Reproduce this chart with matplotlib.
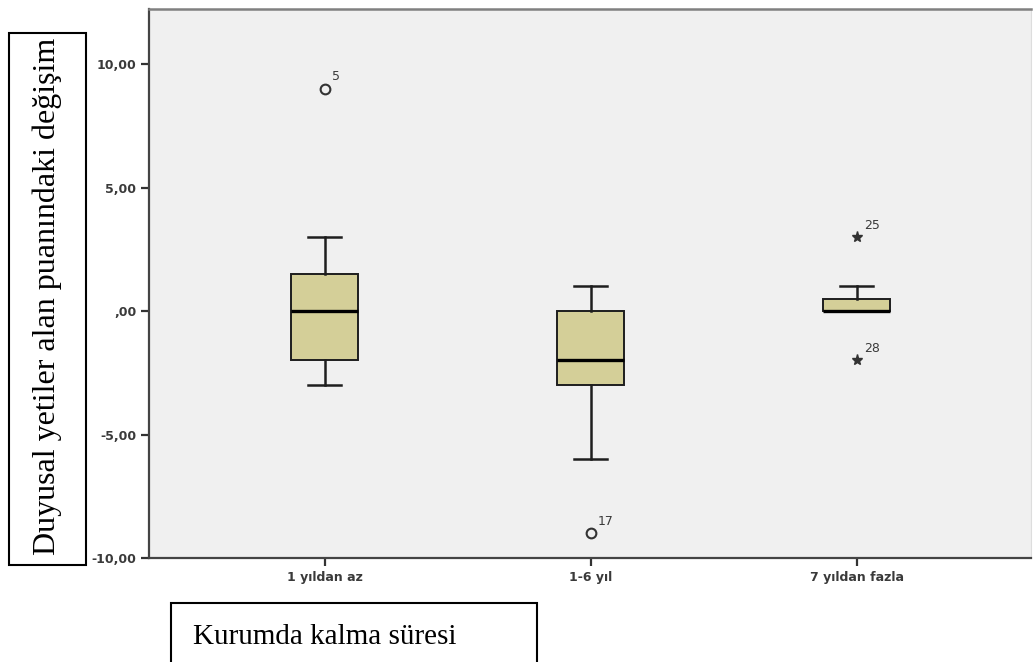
import matplotlib
matplotlib.use("Agg")
import matplotlib.pyplot as plt
from matplotlib.patches import Rectangle

# group data
groups = ["1 yıldan az", "1-6 yıl", "7 yıldan fazla"]
q1 = [-2.0, -3.0, 0.0]
med = [0.0, -2.0, 0.0]
q3 = [1.5, 0.0, 0.5]
wlo = [-3.0, -6.0, 0.0]
whi = [3.0, 1.0, 1.0]

# outliers (o) and extremes (*) with case numbers
out_group = [1, 2]
out_value = [9.0, -9.0]
out_case = ["5", "17"]
ext_group = [3, 3]
ext_value = [3.0, -2.0]
ext_case = ["25", "28"]

yticks = [-10, -5, 0, 5, 10]
ytick_labels = ["-10,00", "-5,00", ",00", "5,00", "10,00"]

fill = "#D4CF98"
edge = "#1e1e1e"
txt = "#3a3a3a"

fig = plt.figure(figsize=(10.33, 6.62), dpi=100)
ax = fig.add_axes([149 / 1033, 104 / 662, 882 / 1033, 549 / 662])
ax.set_facecolor("#F0F0F0")

stats = []
for i in range(len(groups)):
    stats.append({"q1": q1[i], "med": med[i], "q3": q3[i],
                  "whislo": wlo[i], "whishi": whi[i], "fliers": []})

ax.bxp(stats, positions=[1, 2, 3], widths=0.25, patch_artist=True,
       showfliers=False,
       boxprops=dict(facecolor=fill, edgecolor=edge, linewidth=1.4),
       medianprops=dict(color="black", linewidth=2.4),
       whiskerprops=dict(color=edge, linewidth=1.8),
       capprops=dict(color=edge, linewidth=1.8))

ax.plot(out_group, out_value, "o", ms=7, mfc="none", mec="#333333", mew=1.5)
ax.plot(ext_group, ext_value, "*", ms=8, color="#333333")
for g, v, c in zip(out_group + ext_group, out_value + ext_value, out_case + ext_case):
    ax.annotate(c, (g, v), xytext=(5, 6), textcoords="offset points",
                fontsize=9, color=txt, family="DejaVu Sans")

ax.set_xlim(0.34, 3.655)
ax.set_ylim(-10, 12.23)
ax.set_xticks([1, 2, 3])
ax.set_xticklabels(groups)
ax.set_yticks(yticks)
ax.set_yticklabels(ytick_labels)
for lab in ax.get_xticklabels() + ax.get_yticklabels():
    lab.set_family("DejaVu Sans")
    lab.set_fontweight("bold")
    lab.set_fontsize(9)
    lab.set_color(txt)
ax.tick_params(axis="both", length=6, width=1.6, color="#333333", direction="out", pad=3)

for s in ["left", "bottom"]:
    ax.spines[s].set_color("#444444")
    ax.spines[s].set_linewidth(1.6)
ax.spines["top"].set_color("#808080")
ax.spines["top"].set_linewidth(1.8)
ax.spines["right"].set_color("#dddddd")

# boxed axis titles, as pasted into the document
fig.patches.append(Rectangle((9 / 1033, 97 / 662), 77 / 1033, 532 / 662,
                             transform=fig.transFigure, fill=False,
                             edgecolor="black", linewidth=1.5))
fig.text(47 / 1033, 1 - 296 / 662, "Duyusal yetiler alan puanındaki değişim",
         rotation=90, ha="center", va="center", fontsize=23,
         family="Liberation Serif")

fig.patches.append(Rectangle((171 / 1033, -5 / 662), 366 / 1033, 64 / 662,
                             transform=fig.transFigure, fill=False,
                             edgecolor="black", linewidth=1.5))
fig.text(193 / 1033, 1 - 637 / 662, "Kurumda kalma süresi",
         ha="left", va="center", fontsize=21, family="Liberation Serif")

fig.savefig("out.png", dpi=100)
